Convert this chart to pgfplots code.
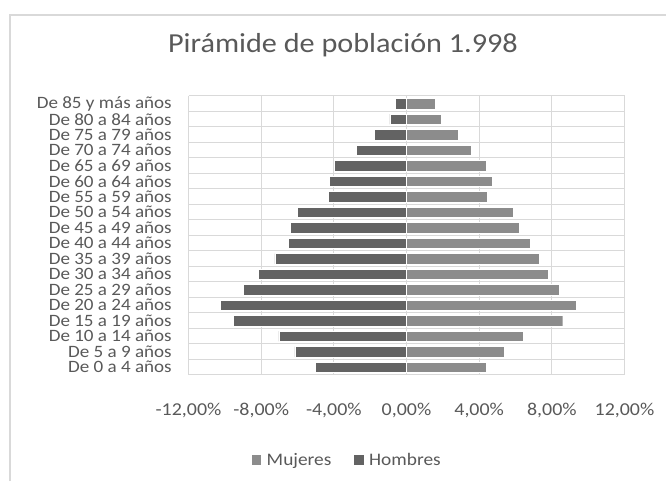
\documentclass[border=0pt]{standalone}
\usepackage{fontspec}
\setmainfont{Carlito}[FakeStretch=1.1]
\usepackage{pgfplots}
\pgfplotsset{compat=1.18}
\definecolor{txt}{HTML}{595959}
\definecolor{gridc}{HTML}{D9D9D9}
\definecolor{muj}{HTML}{8C8C8C}
\definecolor{hom}{HTML}{636363}
\begin{document}
\begin{tikzpicture}
\useasboundingbox (0pt,0pt) rectangle (499.5pt,360.75pt);
\draw[gridc, line width=1.5pt] (7.5pt,0pt) -- (7.5pt,349.5pt) -- (499.5pt,349.5pt);
\node[text=txt, font=\fontsize{20.6}{24}\selectfont, anchor=base, inner sep=0pt] at (257.25pt,321pt) {Pirámide de población 1.998};
\begin{axis}[
  at={(141.375pt,79.5pt)}, anchor=south west,
  scale only axis, width=327pt, height=209.25pt,
  xbar, bar width=7.75pt, bar shift=0pt,
  xmin=-12, xmax=12, ymin=-0.5, ymax=17.5,
  xtick={-12,-8,...,12},
  xticklabels={{-12,00\%},{-8,00\%},{-4,00\%},{0,00\%},{4,00\%},{8,00\%},{12,00\%}},
  ytick={0,...,17},
  yticklabels={{De 0 a 4 años},{De 5 a 9 años},{De 10 a 14 años},{De 15 a 19 años},{De 20 a 24 años},{De 25 a 29 años},{De 30 a 34 años},{De 35 a 39 años},{De 40 a 44 años},{De 45 a 49 años},{De 50 a 54 años},{De 55 a 59 años},{De 60 a 64 años},{De 65 a 69 años},{De 70 a 74 años},{De 75 a 79 años},{De 80 a 84 años},{De 85 y más años}},
  minor ytick={-0.5,0.5,...,17.5},
  yminorgrids, xmajorgrids, ymajorgrids=false,
  grid style={gridc, line width=0.75pt},
  minor grid style={gridc, line width=0.75pt},
  axis line style={draw=none},
  major tick length=0pt, minor tick length=0pt,
  tick style={draw=none},
  xticklabel style={anchor=base, yshift=-30pt, inner sep=0pt, text=txt, font=\fontsize{13.6}{15}\selectfont},
  yticklabel style={anchor=east, inner sep=0pt, xshift=-12.4pt, text=txt, font=\fontsize{13}{13.5}\selectfont},
  legend style={at={(0.3647,-0.3047)}, anchor=center, draw=none, fill=none, legend columns=2,
    font=\fontsize{13.2}{15}\selectfont, text=txt,
    /tikz/every even column/.append style={column sep=15pt}},
  legend cell align=left,
]
\addplot[fill=muj, draw=white, line width=0.3pt,
  legend image code/.code={\fill[muj] (0pt,-3.3pt) rectangle (6.6pt,3.3pt); \path (9pt,0pt);}]
  coordinates {(4.39,0) (5.36,1) (6.45,2) (8.60,3) (9.33,4) (8.41,5) (7.79,6) (7.31,7) (6.80,8) (6.23,9) (5.88,10) (4.44,11) (4.74,12) (4.39,13) (3.58,14) (2.83,15) (1.91,16) (1.56,17)};
\addlegendentry{Mujeres}
\addplot[fill=hom, draw=white, line width=0.3pt,
  legend image code/.code={\fill[hom] (0pt,-3.3pt) rectangle (6.6pt,3.3pt); \path (9pt,0pt);}]
  coordinates {(-5.01,0) (-6.15,1) (-7.02,2) (-9.55,3) (-10.25,4) (-8.98,5) (-8.17,6) (-7.25,7) (-6.52,8) (-6.39,9) (-5.99,10) (-4.32,11) (-4.26,12) (-3.97,13) (-2.75,14) (-1.78,15) (-0.92,16) (-0.61,17)};
\addlegendentry{Hombres}
\end{axis}
\end{tikzpicture}
\end{document}
